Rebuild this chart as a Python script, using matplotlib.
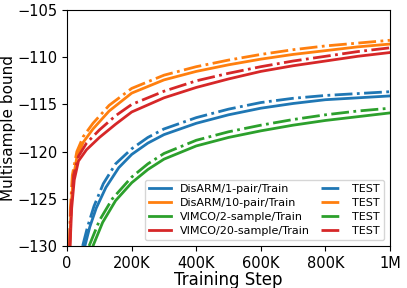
import matplotlib
matplotlib.use("Agg")
import matplotlib.pyplot as plt
import numpy as np

# x in thousands of steps
ot_x = [8, 12, 18, 30, 50, 80, 130, 200, 300, 400, 500, 600, 700, 800, 900, 1000]
ot_y = [-130, -126, -123, -120.6, -119.0, -117.6, -115.7, -113.8, -112.4, -111.5, -110.8, -110.2, -109.7, -109.3, -108.9, -108.6]
oe_x = [7, 10, 16, 30, 50, 80, 130, 200, 300, 400, 500, 600, 700, 800, 900, 1000]
oe_y = [-130, -126, -122.5, -120.0, -118.4, -117.0, -115.1, -113.3, -111.9, -111.0, -110.3, -109.7, -109.2, -108.8, -108.5, -108.2]
rt_x = [9, 14, 22, 35, 60, 100, 150, 200, 300, 400, 500, 600, 700, 800, 900, 1000]
rt_y = [-130, -126, -123, -121, -119.8, -118.5, -117.1, -115.8, -114.3, -113.2, -112.3, -111.5, -110.9, -110.4, -109.9, -109.5]
re_x = [8, 12, 20, 35, 60, 100, 150, 200, 300, 400, 500, 600, 700, 800, 900, 1000]
re_y = [-130, -126, -122.5, -120.5, -119.1, -117.7, -116.2, -115.0, -113.6, -112.5, -111.7, -111.0, -110.4, -109.9, -109.4, -109.0]
bt_x = [55, 70, 90, 120, 160, 200, 250, 300, 400, 500, 600, 700, 800, 900, 1000]
bt_y = [-130, -128.0, -126.0, -123.8, -121.7, -120.3, -119.1, -118.2, -117.0, -116.1, -115.4, -114.9, -114.5, -114.3, -114.1]
be_x = [48, 63, 83, 112, 150, 200, 250, 300, 400, 500, 600, 700, 800, 900, 1000]
be_y = [-130, -128.0, -125.8, -123.4, -121.3, -119.7, -118.5, -117.6, -116.4, -115.5, -114.8, -114.35, -114.05, -113.85, -113.65]
gt_x = [80, 110, 150, 200, 250, 300, 400, 500, 600, 700, 800, 900, 1000]
gt_y = [-130, -127.5, -125.2, -123.3, -121.9, -120.8, -119.4, -118.5, -117.8, -117.2, -116.7, -116.3, -115.9]
ge_x = [68, 100, 140, 200, 250, 300, 400, 500, 600, 700, 800, 900, 1000]
ge_y = [-130, -127.3, -125.0, -122.7, -121.3, -120.2, -118.8, -117.9, -117.2, -116.6, -116.1, -115.7, -115.4]

xticks = [0, 200, 400, 600, 800, 1000]
xtick_labels = ["0", "200K", "400K", "600K", "800K", "1M"]
yticks = [-130, -125, -120, -115, -110, -105]

blue, orange, green, red = "#1f77b4", "#ff7f0e", "#2ca02c", "#d62728"

fig = plt.figure(figsize=(4.07, 2.88), dpi=100)
ax = fig.add_axes([0.165, 0.146, 0.793, 0.819])

lw = 2.0
h1, = ax.plot(bt_x, bt_y, color=blue, lw=lw, label="DisARM/1-pair/Train")
h2, = ax.plot(ot_x, ot_y, color=orange, lw=lw, label="DisARM/10-pair/Train")
h3, = ax.plot(gt_x, gt_y, color=green, lw=lw, label="VIMCO/2-sample/Train")
h4, = ax.plot(rt_x, rt_y, color=red, lw=lw, label="VIMCO/20-sample/Train")
h5, = ax.plot(be_x, be_y, color=blue, lw=lw, ls="-.", label="TEST")
h6, = ax.plot(oe_x, oe_y, color=orange, lw=lw, ls="-.", label="TEST")
h7, = ax.plot(ge_x, ge_y, color=green, lw=lw, ls="-.", label="TEST")
h8, = ax.plot(re_x, re_y, color=red, lw=lw, ls="-.", label="TEST")

ax.set_xlim(0, 1000)
ax.set_ylim(-130, -105)
ax.set_xticks(xticks)
ax.set_xticklabels(xtick_labels)
ax.set_yticks(yticks)
ax.tick_params(labelsize=10.5)
ax.set_xlabel("Training Step", fontsize=12, labelpad=0)
ax.set_ylabel("Multisample bound", fontsize=11, labelpad=1)

ax.legend(handles=[h1, h2, h3, h4, h5, h6, h7, h8], ncol=2, loc="lower right",
          fontsize=8.0, handlelength=2.0, columnspacing=1.0, labelspacing=0.35,
          borderaxespad=0.5)

fig.savefig("out.png", dpi=100)
